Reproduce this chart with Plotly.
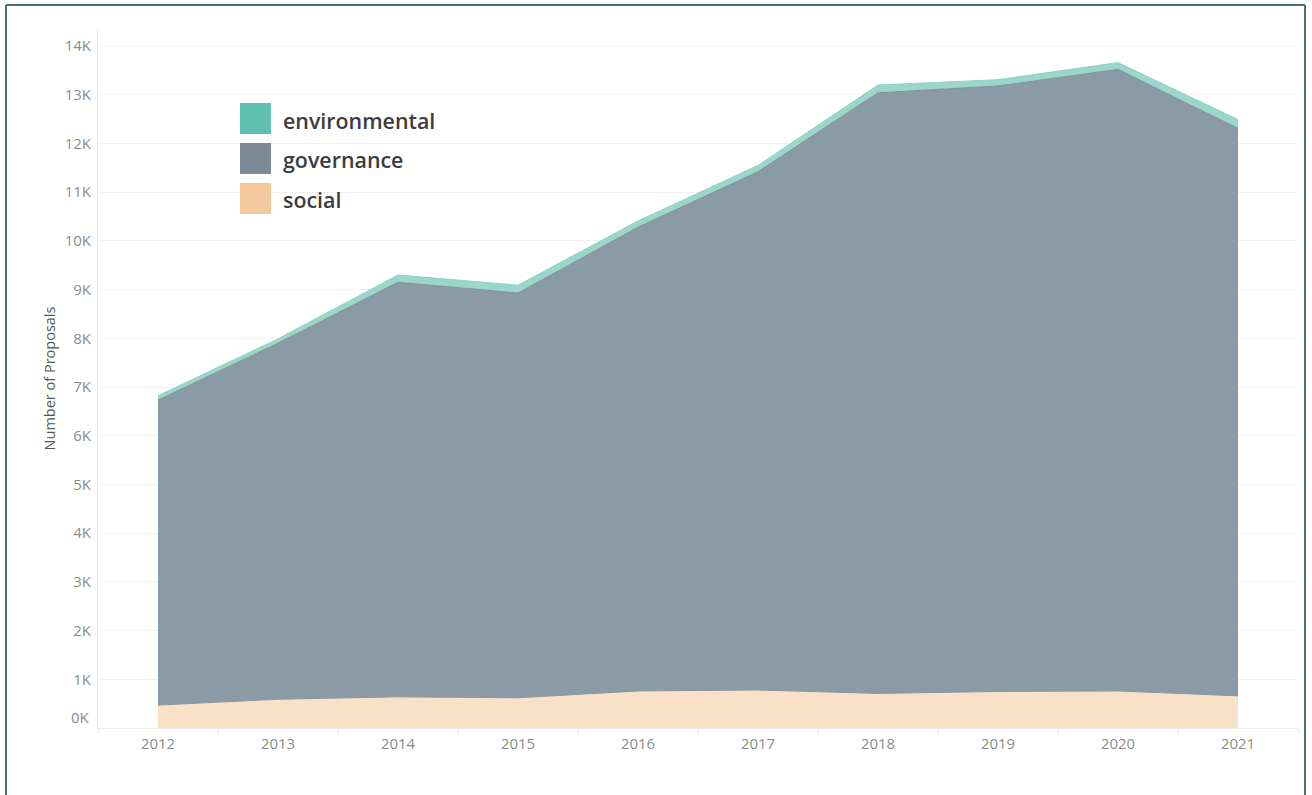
import plotly.graph_objects as go

# ---- data ----
years = ["2012", "2013", "2014", "2015", "2016", "2017", "2018", "2019", "2020", "2021"]
social = [470, 590, 640, 620, 760, 780, 710, 750, 760, 660]
governance = [6260, 7310, 8510, 8310, 9520, 10640, 12330, 12430, 12760, 11650]
environmental = [90, 90, 150, 160, 130, 130, 160, 130, 140, 180]
series_names = ["environmental", "governance", "social"]
y_tick_vals = [1000 * k for k in range(1, 15)]
y_tick_text = [f"{k}K" for k in range(1, 15)]

# ---- styles ----
W, H = 1312, 795
L, R, T, B = 98, 1298, 29, 728
area_fill = {"social": "#f9e1c8", "governance": "#8b9ba5", "environmental": "#9ad6cb"}
area_line = {"social": "#8a979f", "governance": "#808f99", "environmental": "#8fd2c6"}
swatch = {"environmental": "#5fc0b1", "governance": "#7c8a97", "social": "#f3c89c"}
font_family = "Open Sans, Lato, sans-serif"
tick_color = "#8c8c8c"

def px_x(x):
    return (x - L) / (R - L)

def px_y(y):
    return (B - y) / (B - T)

fig = go.Figure()
for name, vals in [("social", social), ("governance", governance), ("environmental", environmental)]:
    fig.add_trace(go.Scatter(
        x=years, y=vals, name=name, mode="lines", stackgroup="one",
        line=dict(color=area_line[name], width=1), fillcolor=area_fill[name],
        showlegend=False, hoverinfo="x+y+name",
    ))

fig.update_layout(
    width=W, height=H,
    margin=dict(l=L, r=W - R, t=T, b=H - B, pad=0),
    paper_bgcolor="white", plot_bgcolor="white",
    font=dict(family=font_family, color=tick_color, size=14),
    showlegend=False,
)
fig.update_xaxes(
    type="category", range=[-0.5, 9.5], showgrid=False, tickson="boundaries",
    ticks="outside", ticklen=4, tickcolor="#e6e6e6", tickwidth=1,
    showline=True, linecolor="#ececec", linewidth=1,
    tickfont=dict(size=15, color=tick_color), zeroline=False, ticklabelstandoff=2,
)
fig.update_yaxes(
    range=[0, 14350], tickvals=y_tick_vals, ticktext=y_tick_text,
    showgrid=True, gridcolor="#f1f1f1", gridwidth=1,
    showline=True, linecolor="#ececec", linewidth=1, zeroline=False,
    ticks="", ticklabelstandoff=3,
    tickfont=dict(size=15, color=tick_color),
    title=dict(text="Number of Proposals", font=dict(size=14.5, color="#555555"), standoff=5),
)

# 0K label (nudged up as in the reference)
fig.add_annotation(xref="paper", yref="y", x=px_x(92), y=0, xanchor="right", yanchor="middle",
                   yshift=11, text="0K", showarrow=False, font=dict(size=15, color=tick_color))

# custom legend
for i, name in enumerate(series_names):
    top = 103 + 40 * i
    fig.add_shape(type="rect", xref="paper", yref="paper",
                  x0=px_x(240), x1=px_x(271), y0=px_y(top + 31), y1=px_y(top),
                  fillcolor=swatch[name], line=dict(width=0))
    fig.add_annotation(xref="paper", yref="paper", x=px_x(281), y=px_y(top + 17),
                       xanchor="left", yanchor="middle", text=name, showarrow=False,
                       font=dict(size=21.4, color="#3c3c3c", family=font_family, weight=600))

# frame
frame = dict(color="#4f6b7d", width=2)
fig.add_shape(type="line", xref="paper", yref="paper", x0=px_x(6), x1=px_x(1305), y0=px_y(5), y1=px_y(5), line=frame)
fig.add_shape(type="line", xref="paper", yref="paper", x0=px_x(6), x1=px_x(6), y0=px_y(5), y1=px_y(800), line=frame)
fig.add_shape(type="line", xref="paper", yref="paper", x0=px_x(1305), x1=px_x(1305), y0=px_y(5), y1=px_y(800), line=frame)

fig.write_html("out.html", config={"displayModeBar": False},
               post_script="document.body.style.margin='0px';")
